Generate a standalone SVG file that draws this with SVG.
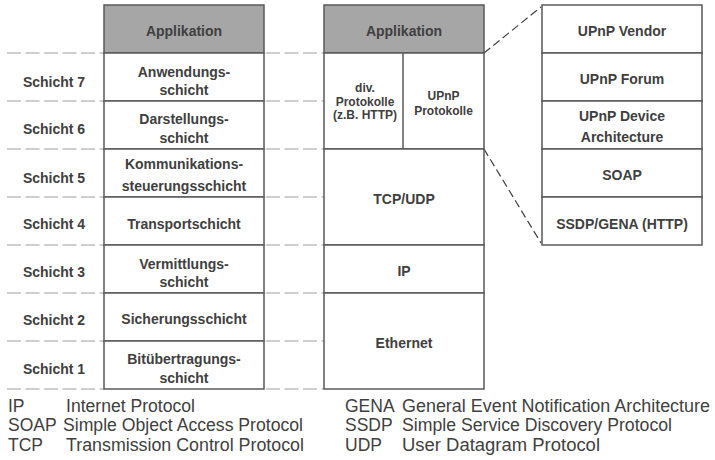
<svg xmlns="http://www.w3.org/2000/svg" width="715" height="460" viewBox="0 0 715 460">
  <style>
    .box { fill: #ffffff; stroke: #595959; stroke-width: 1.5; }
    .hdr { fill: #a6a6a6; stroke: #595959; stroke-width: 1.5; }
    .div { stroke: #595959; stroke-width: 1.5; fill: none; }
    .lbl { font-family: "Liberation Sans", Arial, sans-serif; font-weight: bold; font-size: 14px; fill: #404040; text-anchor: middle; }
    .sm { font-size: 12px; }
    .guide { stroke: #bfbfbf; stroke-width: 1.5; stroke-dasharray: 14 4.5; fill: none; }
    .zoom { stroke: #404040; stroke-width: 1.2; stroke-dasharray: 8 4; fill: none; }
    .leg { font-family: "Liberation Sans", Arial, sans-serif; font-size: 17.5px; fill: #404040; }
  </style>

  <!-- layer boundary guides and zoom lines -->
  <g id="connectors">
    <path class="guide" d="M7 53H104M7 101H104M7 149H104M7 197H104M7 245H104M7 293H104M7 341H104M7 389H104"/>
    <path class="guide" d="M266 53H324M266 101H324M266 149H324M266 197H324M266 245H324M266 293H324M266 341H324M266 389H324"/>
    <line class="zoom" x1="484" y1="53" x2="541" y2="7"/>
    <line class="zoom" x1="484" y1="149" x2="541" y2="243"/>
  </g>

  <!-- OSI layer numbers -->
  <g id="layer-numbers">
    <text class="lbl" x="54" y="86.5">Schicht 7</text>
    <text class="lbl" x="54" y="134">Schicht 6</text>
    <text class="lbl" x="54" y="183">Schicht 5</text>
    <text class="lbl" x="54" y="229">Schicht 4</text>
    <text class="lbl" x="54" y="276.5">Schicht 3</text>
    <text class="lbl" x="54" y="325">Schicht 2</text>
    <text class="lbl" x="54" y="373.5">Schicht 1</text>
  </g>

  <!-- OSI reference model -->
  <g id="osi-app">
    <rect class="hdr" x="104" y="5" width="160" height="48"/>
    <text class="lbl" x="184" y="36">Applikation</text>
  </g>
  <g id="osi-7">
    <rect class="box" x="104" y="53" width="160" height="48"/>
    <text class="lbl" x="184" y="76.5">Anwendungs-</text>
    <text class="lbl" x="184" y="95">schicht</text>
  </g>
  <g id="osi-6">
    <rect class="box" x="104" y="101" width="160" height="48"/>
    <text class="lbl" x="184" y="123.5">Darstellungs-</text>
    <text class="lbl" x="184" y="142.5">schicht</text>
  </g>
  <g id="osi-5">
    <rect class="box" x="104" y="149" width="160" height="48"/>
    <text class="lbl" x="184" y="168.5">Kommunikations-</text>
    <text class="lbl" x="184" y="190.5">steuerungsschicht</text>
  </g>
  <g id="osi-4">
    <rect class="box" x="104" y="197" width="160" height="48"/>
    <text class="lbl" x="184" y="228.5">Transportschicht</text>
  </g>
  <g id="osi-3">
    <rect class="box" x="104" y="245" width="160" height="48"/>
    <text class="lbl" x="184" y="268.5">Vermittlungs-</text>
    <text class="lbl" x="184" y="287">schicht</text>
  </g>
  <g id="osi-2">
    <rect class="box" x="104" y="293" width="160" height="48"/>
    <text class="lbl" x="184" y="323.5">Sicherungsschicht</text>
  </g>
  <g id="osi-1">
    <rect class="box" x="104" y="341" width="160" height="48"/>
    <text class="lbl" x="184" y="364">Bitübertragungs-</text>
    <text class="lbl" x="184" y="382.5">schicht</text>
  </g>

  <!-- TCP/IP stack -->
  <g id="ip-app">
    <rect class="hdr" x="324" y="5" width="160" height="48"/>
    <text class="lbl" x="404" y="36">Applikation</text>
  </g>
  <g id="ip-protocols">
    <rect class="box" x="324" y="53" width="160" height="96"/>
    <line class="div" x1="403" y1="53" x2="403" y2="149"/>
    <text class="lbl sm" x="365" y="92">div.</text>
    <text class="lbl sm" x="365" y="105.5">Protokolle</text>
    <text class="lbl sm" x="365" y="118.5">(z.B. HTTP)</text>
    <text class="lbl sm" x="443.5" y="100">UPnP</text>
    <text class="lbl sm" x="443.5" y="115">Protokolle</text>
  </g>
  <g id="ip-transport">
    <rect class="box" x="324" y="149" width="160" height="96"/>
    <text class="lbl" x="404" y="204">TCP/UDP</text>
  </g>
  <g id="ip-network">
    <rect class="box" x="324" y="245" width="160" height="48"/>
    <text class="lbl" x="404" y="276">IP</text>
  </g>
  <g id="ip-link">
    <rect class="box" x="324" y="293" width="160" height="96"/>
    <text class="lbl" x="404" y="348">Ethernet</text>
  </g>

  <!-- UPnP protocol stack -->
  <g id="upnp-vendor">
    <rect class="box" x="542" y="5" width="160" height="48"/>
    <text class="lbl" x="622" y="36">UPnP Vendor</text>
  </g>
  <g id="upnp-forum">
    <rect class="box" x="542" y="53" width="160" height="48"/>
    <text class="lbl" x="622" y="84">UPnP Forum</text>
  </g>
  <g id="upnp-device">
    <rect class="box" x="542" y="101" width="160" height="48"/>
    <text class="lbl" x="622" y="120.5">UPnP Device</text>
    <text class="lbl" x="622" y="141.5">Architecture</text>
  </g>
  <g id="upnp-soap">
    <rect class="box" x="542" y="149" width="160" height="48"/>
    <text class="lbl" x="622" y="179.5">SOAP</text>
  </g>
  <g id="upnp-ssdp">
    <rect class="box" x="542" y="197" width="160" height="48"/>
    <text class="lbl" x="622" y="228.5">SSDP/GENA (HTTP)</text>
  </g>

  <!-- abbreviations -->
  <g id="legend">
    <text class="leg" x="8" y="411.5">IP</text>
    <text class="leg" x="66" y="411.5" textLength="129" lengthAdjust="spacingAndGlyphs">Internet Protocol</text>
    <text class="leg" x="8" y="431">SOAP</text>
    <text class="leg" x="63" y="431" textLength="240" lengthAdjust="spacingAndGlyphs">Simple Object Access Protocol</text>
    <text class="leg" x="8" y="450.5">TCP</text>
    <text class="leg" x="66" y="450.5" textLength="238" lengthAdjust="spacingAndGlyphs">Transmission Control Protocol</text>
    <text class="leg" x="345" y="411.5">GENA</text>
    <text class="leg" x="402" y="411.5" textLength="308" lengthAdjust="spacingAndGlyphs">General Event Notification Architecture</text>
    <text class="leg" x="345" y="431">SSDP</text>
    <text class="leg" x="402" y="431" textLength="270" lengthAdjust="spacingAndGlyphs">Simple Service Discovery Protocol</text>
    <text class="leg" x="345" y="450.5">UDP</text>
    <text class="leg" x="402" y="450.5" textLength="198" lengthAdjust="spacingAndGlyphs">User Datagram Protocol</text>
  </g>
</svg>
